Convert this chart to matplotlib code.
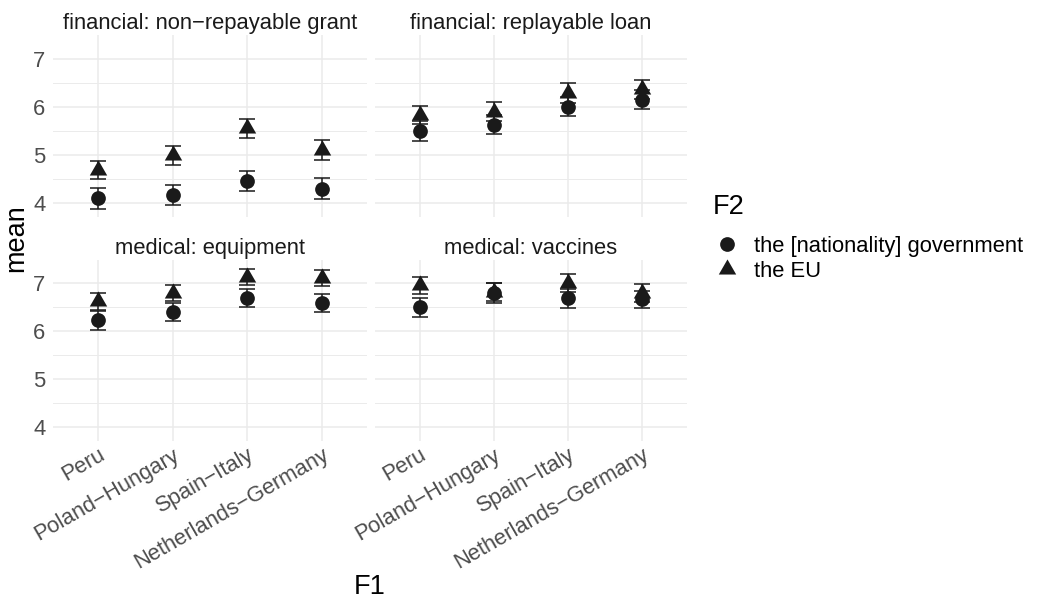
import matplotlib
matplotlib.use("Agg")
import matplotlib.pyplot as plt
from matplotlib.lines import Line2D
import numpy as np

plt.rcParams['font.family'] = ['Liberation Sans', 'DejaVu Sans']

# ---------------- data ----------------
categories = ["Peru", "Poland\u2212Hungary", "Spain\u2212Italy", "Netherlands\u2212Germany"]
panel_titles = ["financial: non\u2212repayable grant", "financial: replayable loan",
                "medical: equipment", "medical: vaccines"]
series_labels = ["the [nationality] government", "the EU"]

gov_grant = [4.10, 4.16, 4.46, 4.30]
eu_grant = [4.68, 4.99, 5.55, 5.10]
gov_loan = [5.49, 5.63, 6.00, 6.15]
eu_loan = [5.83, 5.90, 6.29, 6.36]
gov_equip = [6.23, 6.40, 6.70, 6.60]
eu_equip = [6.63, 6.80, 7.14, 7.11]
gov_vacc = [6.50, 6.80, 6.69, 6.67]
eu_vacc = [6.96, 6.83, 7.01, 6.80]

gov_grant_err = [0.22, 0.21, 0.21, 0.21]
eu_grant_err = [0.19, 0.20, 0.20, 0.20]
gov_loan_err = [0.21, 0.20, 0.20, 0.20]
eu_loan_err = [0.19, 0.19, 0.21, 0.19]
gov_equip_err = [0.20, 0.19, 0.19, 0.19]
eu_equip_err = [0.18, 0.17, 0.17, 0.17]
gov_vacc_err = [0.20, 0.21, 0.20, 0.18]
eu_vacc_err = [0.18, 0.19, 0.19, 0.19]

y_ticks = [4, 5, 6, 7]
y_minor = [4.5, 5.5, 6.5]

gov_sets = [gov_grant, gov_loan, gov_equip, gov_vacc]
eu_sets = [eu_grant, eu_loan, eu_equip, eu_vacc]
gov_errs = [gov_grant_err, gov_loan_err, gov_equip_err, gov_vacc_err]
eu_errs = [eu_grant_err, eu_loan_err, eu_equip_err, eu_vacc_err]

# ---------------- layout ----------------
W, H, DPI = 1037, 601, 100
fig = plt.figure(figsize=(W / DPI, H / DPI), dpi=DPI, facecolor="white")


def rect(l, t, r, b):
    return [l / W, 1 - b / H, (r - l) / W, (b - t) / H]


panel_rects = [rect(53, 35, 367, 217), rect(375, 35, 687, 217),
               rect(53, 260, 367, 441), rect(375, 260, 687, 441)]

GRID = "#EBEBEB"
TICKC = "#4D4D4D"
MARK = "#1A1A1A"
SMALL = 15.8
BIG = 19.5

tri = [(0, 2), (-1.732, -1), (1.732, -1)]

x = np.arange(1, len(categories) + 1)
axes = []
for i in range(4):
    ax = fig.add_axes(panel_rects[i])
    axes.append(ax)
    ax.set_facecolor("white")
    for s in ax.spines.values():
        s.set_visible(False)
    ax.set_xlim(0.4, 4.6)
    ax.set_ylim(3.71, 7.49)
    ax.set_xticks(x)
    ax.set_yticks(y_ticks)
    ax.set_yticks(y_minor, minor=True)
    ax.grid(True, which="major", color=GRID, linewidth=1.1, zorder=0)
    ax.grid(True, which="minor", axis="y", color=GRID, linewidth=0.7, zorder=0)
    ax.set_axisbelow(True)
    ax.tick_params(which="both", length=0)
    ax.tick_params(axis="y", pad=5.5, labelsize=SMALL, labelcolor=TICKC)
    ax.tick_params(axis="x", pad=2.5, labelsize=SMALL, labelcolor=TICKC)
    if i in (0, 2):
        ax.set_yticklabels([str(t) for t in y_ticks])
    else:
        ax.set_yticklabels([])
    if i in (2, 3):
        ax.set_xticklabels(categories, rotation=30, ha="right", va="top",
                           rotation_mode="anchor")
    else:
        ax.set_xticklabels([])

    ax.errorbar(x, gov_sets[i], yerr=gov_errs[i], fmt="none", ecolor=MARK,
                elinewidth=1.1, capsize=6, capthick=1.1, zorder=3)
    ax.errorbar(x, eu_sets[i], yerr=eu_errs[i], fmt="none", ecolor=MARK,
                elinewidth=1.1, capsize=6, capthick=1.1, zorder=3)
    ax.plot(x, gov_sets[i], linestyle="none", marker="o", markersize=10.6,
            color=MARK, markeredgewidth=0, zorder=4)
    ax.plot(x, eu_sets[i], linestyle="none", marker=tri, markersize=14.5,
            color=MARK, markeredgewidth=0, zorder=4)

    # strip title
    ax.set_title(panel_titles[i], fontsize=SMALL, color="#1A1A1A", pad=4.5)

# axis titles
fig.text(16 / W, 1 - 238 / H, "mean", rotation=90, fontsize=BIG,
         ha="center", va="center", color="black")
fig.text(370 / W, 1 - 587 / H, "F1", fontsize=BIG, ha="center",
         va="center", color="black")

# legend
fig.text(713 / W, 1 - 207 / H, "F2", fontsize=BIG, ha="left", va="center",
         color="black")
handles = [Line2D([], [], linestyle="none", marker="o", markersize=10.6,
                  color=MARK, markeredgewidth=0),
           Line2D([], [], linestyle="none", marker=tri, markersize=14.5,
                  color=MARK, markeredgewidth=0)]
leg = fig.legend(handles, series_labels, loc="upper left",
                 bbox_to_anchor=(714 / W, 1 - 236 / H), frameon=False,
                 fontsize=SMALL, handlelength=1.2,
                 handletextpad=0.6, labelspacing=0.19, borderpad=0,
                 borderaxespad=0)

fig.savefig("out.png", dpi=DPI, facecolor="white")
